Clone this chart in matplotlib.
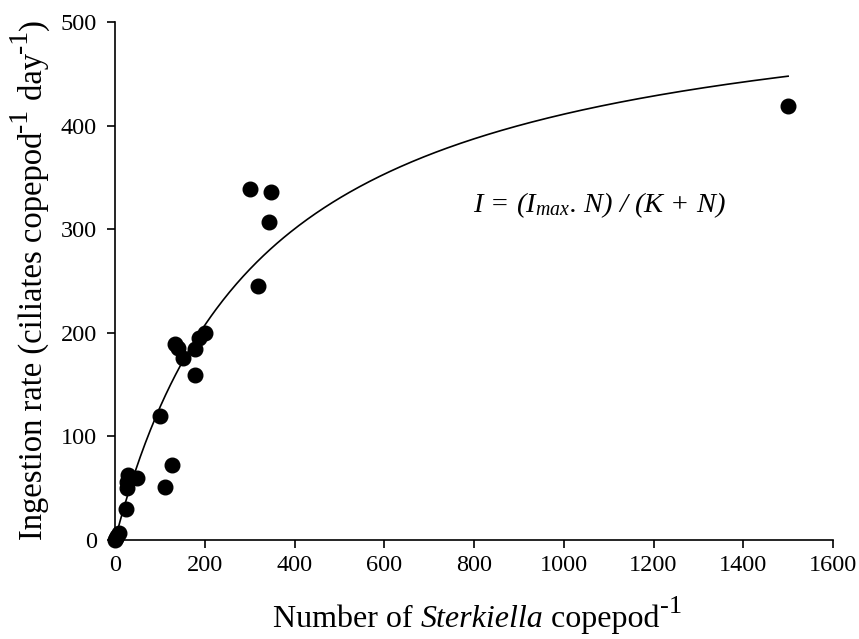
import numpy as np
import matplotlib
matplotlib.use("Agg")
import matplotlib.pyplot as plt
from matplotlib.transforms import IdentityTransform

plt.rcParams['font.family'] = ['Liberation Serif', 'DejaVu Serif']
plt.rcParams['mathtext.fontset'] = 'custom'
plt.rcParams['mathtext.rm'] = 'Liberation Serif'
plt.rcParams['mathtext.it'] = 'Liberation Serif:italic'
plt.rcParams['mathtext.bf'] = 'Liberation Serif:bold'

# Observed ingestion data
sterkiella_n = [0, 3, 5, 8, 24, 26, 26, 30, 50, 100, 111, 126, 134, 140, 151,
                178, 179, 188, 200, 300, 319, 344, 347, 1500]
ingestion = [0, 2, 4, 7, 30, 50, 56, 63, 60, 120, 51, 72, 189, 185, 176,
             184, 159, 195, 200, 339, 245, 307, 336, 419]

# Michaelis-Menten fit parameters
i_max = 545.0
k_half = 326.0
fit_x_max = 1500

x_ticks = [0, 200, 400, 600, 800, 1000, 1200, 1400, 1600]
y_ticks = [0, 100, 200, 300, 400, 500]

fig = plt.figure(figsize=(8.59, 6.39), dpi=100)
ax = fig.add_axes([115/859, 1-540/639, (833-115)/859, (540-22)/639])

n_fit = np.linspace(0, fit_x_max, 400)
ax.plot(n_fit, i_max * n_fit / (k_half + n_fit), color='black', lw=1.2, clip_on=False)
ax.plot(sterkiella_n, ingestion, 'o', color='black', ms=10.5, clip_on=False, zorder=3)

ax.set_xlim(0, 1600)
ax.set_ylim(0, 500)
ax.set_xticks(x_ticks)
ax.set_yticks(y_ticks)
for s in ['top', 'right']:
    ax.spines[s].set_visible(False)
for s in ['left', 'bottom']:
    ax.spines[s].set_linewidth(1.2)
ax.tick_params(direction='out', length=6, width=1.2, labelsize=17.5, colors='black')
ax.tick_params(axis='y', pad=7)
ax.tick_params(axis='x', pad=5)

ax.text(797, 323, 'I = (I$_{max}$. N) / (K + N)', fontsize=20.5, fontstyle='italic',
        ha='left', va='center')

# Axis labels built from pieces so that superscripts are large, as in the original
renderer = fig.canvas.get_renderer()
H = fig.bbox.height

x_pieces = [('Number of ', 'normal', False), ('Sterkiella', 'italic', False),
            (' copepod', 'normal', False), ('-1', 'normal', True)]
cx, by = 273, H - 627
for s, style, sup in x_pieces:
    t = fig.text(cx, by + (14 if sup else 0), s, transform=IdentityTransform(),
                 fontsize=19 if sup else 23, fontstyle=style,
                 ha='left', va='baseline')
    cx = t.get_window_extent(renderer).x1

y_pieces = [('Ingestion rate (ciliates copepod', False), ('-1', True),
            (' day', False), ('-1', True), (')', False)]
bx, cy = 42, H - 540
for s, sup in y_pieces:
    t = fig.text(bx - (15 if sup else 0), cy, s, transform=IdentityTransform(),
                 fontsize=20 if sup else 23.5, rotation=90,
                 rotation_mode='anchor', ha='left', va='baseline')
    cy = t.get_window_extent(renderer).y1

fig.savefig('out.png', dpi=100)
